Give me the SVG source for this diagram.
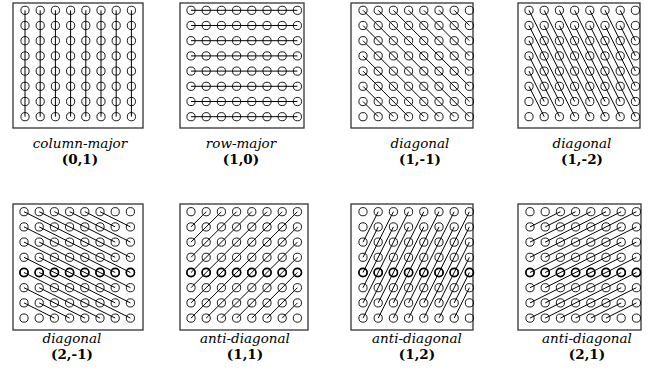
<svg xmlns="http://www.w3.org/2000/svg" xmlns:xlink="http://www.w3.org/1999/xlink" width="656" height="379" viewBox="0 0 656 379">
<style>
.frame{fill:none;stroke:#333;stroke-width:1.3}
.lines path{fill:none;stroke:#000;stroke-width:1;vector-effect:non-scaling-stroke}
.cap{font-family:"DejaVu Serif","Liberation Serif",serif;font-size:13.5px;text-anchor:middle;fill:#000}
.it{font-style:italic}
.bd{font-weight:bold}
</style>
<defs>
<g id="row">
<circle cx="0" cy="0" r="4.1"/><circle cx="15.2" cy="0" r="4.1"/><circle cx="30.4" cy="0" r="4.1"/><circle cx="45.6" cy="0" r="4.1"/><circle cx="60.8" cy="0" r="4.1"/><circle cx="76" cy="0" r="4.1"/><circle cx="91.2" cy="0" r="4.1"/><circle cx="106.4" cy="0" r="4.1"/>
</g>
<g id="grid">
<use xlink:href="#row" y="0"/><use xlink:href="#row" y="15.2"/><use xlink:href="#row" y="30.4"/><use xlink:href="#row" y="45.6"/><use xlink:href="#row" y="60.8"/><use xlink:href="#row" y="76"/><use xlink:href="#row" y="91.2"/><use xlink:href="#row" y="106.4"/>
</g>
</defs>

<g id="panel-col-major">
<rect class="frame" x="13" y="3" width="130" height="125"/>
<g class="lines" transform="translate(25,10.3) scale(15.2)"><path d="M0 0V7M1 0V7M2 0V7M3 0V7M4 0V7M5 0V7M6 0V7M7 0V7"/></g>
<use xlink:href="#grid" x="25" y="10.3" fill="none" stroke="#000" stroke-width="0.9"/>
<text class="cap it" x="80" y="147.5">column-major</text>
<text class="cap bd" x="80" y="163.5">(0,1)</text>
</g>

<g id="panel-row-major">
<rect class="frame" x="180" y="3" width="124" height="125"/>
<g class="lines" transform="translate(191,10.3) scale(15.2)"><path d="M0 0H7M0 1H7M0 2H7M0 3H7M0 4H7M0 5H7M0 6H7M0 7H7"/></g>
<use xlink:href="#grid" x="191" y="10.3" fill="none" stroke="#000" stroke-width="0.9"/>
<text class="cap it" x="241" y="147.5">row-major</text>
<text class="cap bd" x="241" y="163.5">(1,0)</text>
</g>

<g id="panel-diag-1-m1">
<rect class="frame" x="351" y="3" width="122" height="125"/>
<g class="lines" transform="translate(363,10.3) scale(15.2)"><path d="M0 0L7 7M1 0L7 6M2 0L7 5M3 0L7 4M4 0L7 3M5 0L7 2M6 0L7 1M0 1L6 7M0 2L5 7M0 3L4 7M0 4L3 7M0 5L2 7M0 6L1 7"/></g>
<use xlink:href="#grid" x="363" y="10.3" fill="none" stroke="#000" stroke-width="0.9"/>
<text class="cap it" x="420" y="147.5">diagonal</text>
<text class="cap bd" x="420" y="163.5">(1,-1)</text>
</g>

<g id="panel-diag-1-m2">
<rect class="frame" x="518" y="3" width="122" height="125"/>
<g class="lines" transform="translate(529,10.3) scale(15.2)"><path d="M0 0L3 6M1 0L4 6M2 0L5 6M3 0L6 6M4 0L7 6M5 0L7 4M6 0L7 2M0 1L3 7M1 1L4 7M2 1L5 7M3 1L6 7M4 1L7 7M5 1L7 5M6 1L7 3M0 2L2 6M0 3L2 7M0 4L1 6M0 5L1 7"/></g>
<use xlink:href="#grid" x="529" y="10.3" fill="none" stroke="#000" stroke-width="0.9"/>
<text class="cap it" x="582" y="147.5">diagonal</text>
<text class="cap bd" x="582" y="163.5">(1,-2)</text>
</g>

<g id="panel-diag-2-m1">
<rect class="frame" x="13" y="204" width="130" height="126"/>
<g class="lines" transform="translate(24,211.7) scale(15.2)"><path d="M0 0L6 3M1 0L7 3M2 0L6 2M3 0L7 2M4 0L6 1M5 0L7 1M0 1L6 4M0 2L6 5M0 3L6 6M0 4L6 7M0 5L4 7M0 6L2 7M1 1L7 4M1 2L7 5M1 3L7 6M1 4L7 7M1 5L5 7M1 6L3 7"/></g>
<use xlink:href="#grid" x="24" y="211.7" fill="none" stroke="#000" stroke-width="0.9"/>
<use xlink:href="#row" x="24" y="272.5" fill="none" stroke="#000" stroke-width="1.6"/>
<text class="cap it" x="72" y="342.5">diagonal</text>
<text class="cap bd" x="72" y="358.5">(2,-1)</text>
</g>

<g id="panel-anti-1-1">
<rect class="frame" x="180" y="204" width="128" height="126"/>
<g class="lines" transform="translate(191,211.7) scale(15.2)"><path d="M0 1L1 0M0 2L2 0M0 3L3 0M0 4L4 0M0 5L5 0M0 6L6 0M0 7L7 0M1 7L7 1M2 7L7 2M3 7L7 3M4 7L7 4M5 7L7 5M6 7L7 6"/></g>
<use xlink:href="#grid" x="191" y="211.7" fill="none" stroke="#000" stroke-width="0.9"/>
<use xlink:href="#row" x="191" y="272.5" fill="none" stroke="#000" stroke-width="1.6"/>
<text class="cap it" x="245" y="342.5">anti-diagonal</text>
<text class="cap bd" x="245" y="358.5">(1,1)</text>
</g>

<g id="panel-anti-1-2">
<rect class="frame" x="351" y="204" width="122" height="126"/>
<g class="lines" transform="translate(363,211.7) scale(15.2)"><path d="M0 7L3 1M1 7L4 1M2 7L5 1M3 7L6 1M4 7L7 1M5 7L7 3M6 7L7 5M0 6L3 0M1 6L4 0M2 6L5 0M3 6L6 0M4 6L7 0M5 6L7 2M6 6L7 4M0 5L2 1M0 4L2 0M0 3L1 1M0 2L1 0"/></g>
<use xlink:href="#grid" x="363" y="211.7" fill="none" stroke="#000" stroke-width="0.9"/>
<use xlink:href="#row" x="363" y="272.5" fill="none" stroke="#000" stroke-width="1.6"/>
<text class="cap it" x="417" y="342.5">anti-diagonal</text>
<text class="cap bd" x="417" y="358.5">(1,2)</text>
</g>

<g id="panel-anti-2-1">
<rect class="frame" x="518" y="204" width="123" height="126"/>
<g class="lines" transform="translate(530,211.7) scale(15.2)"><path d="M0 7L6 4M1 7L7 4M2 7L6 5M3 7L7 5M4 7L6 6M5 7L7 6M0 6L6 3M0 5L6 2M0 4L6 1M0 3L6 0M0 2L4 0M0 1L2 0M1 6L7 3M1 5L7 2M1 4L7 1M1 3L7 0M1 2L5 0M1 1L3 0"/></g>
<use xlink:href="#grid" x="530" y="211.7" fill="none" stroke="#000" stroke-width="0.9"/>
<use xlink:href="#row" x="530" y="272.5" fill="none" stroke="#000" stroke-width="1.6"/>
<text class="cap it" x="587" y="342.5">anti-diagonal</text>
<text class="cap bd" x="587" y="358.5">(2,1)</text>
</g>
</svg>
